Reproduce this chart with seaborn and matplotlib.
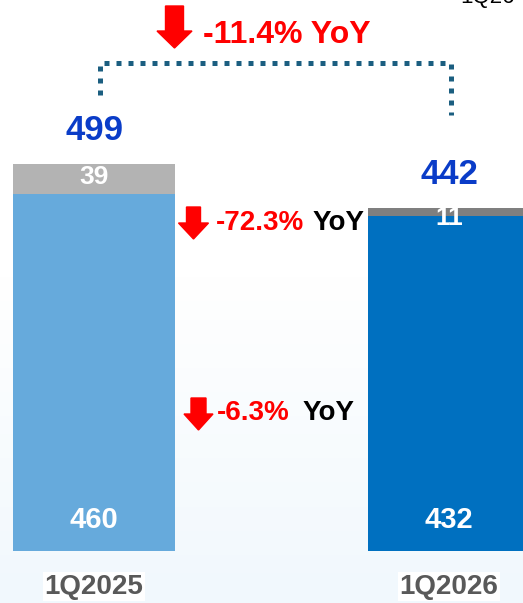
"""
Stacked revenue bars 1Q2025 vs 1Q2026 with YoY call-outs.
"""
import numpy as np
import pandas as pd
import seaborn as sns
import matplotlib.pyplot as plt
from matplotlib.patches import FancyArrow
from matplotlib.colors import LinearSegmentedColormap

periods = ['1Q2025', '1Q2026']
base = [460, 432]
top = [39, 11]
total = [499, 442]
base_colors = ['#66aadc', '#0070c0']
top_colors = ['#b3b3b3', '#7f7f7f']
yoy_total = '-11.4% YoY'
yoy_top = '-72.3%'
yoy_base = '-6.3%'

df = pd.DataFrame({'period': periods, 'base': base, 'top': top, 'total': total})

sns.set_theme(style='white')
plt.rcParams['font.family'] = ['Liberation Sans', 'DejaVu Sans']

fig = plt.figure(figsize=(5.23, 6.03), dpi=100)

# soft gradient background
bg = fig.add_axes([0, 0, 1, 1], zorder=0)
grad = np.concatenate([np.zeros(45), np.linspace(0, 1, 55)]).reshape(-1, 1)
cmap = LinearSegmentedColormap.from_list('bg', ['#ffffff', '#f1f8fd'])
bg.imshow(grad, aspect='auto', cmap=cmap, extent=[0, 1, 0, 1], origin='upper')
bg.axis('off')

ax = fig.add_axes([0, 0, 1, 1], zorder=1)
ax.patch.set_alpha(0)

w = 0.456
sns.barplot(data=df, x='period', y='total', hue='period', palette=top_colors,
            width=w, legend=False, ax=ax, saturation=1, linewidth=0)
sns.barplot(data=df, x='period', y='base', hue='period', palette=base_colors,
            width=w, legend=False, ax=ax, saturation=1, linewidth=0)

ax.set_xlim(-0.265, 1.2085)
ax.set_ylim(-67, 710)
ax.axis('off')

for i in range(2):
    ax.text(i, total[i] + 43, str(total[i]), ha='center', va='center',
            color='#0a3cc8', fontsize=25, fontweight='bold')
    ax.text(i, 40, str(base[i]), ha='center', va='center',
            color='white', fontsize=21, fontweight='bold')
    ax.text(i, -46, periods[i], ha='center', va='center',
            color='#595959', fontsize=20, fontweight='bold',
            bbox=dict(facecolor='white', edgecolor='none', pad=1))
ax.text(0, base[0] + top[0] / 2 + 2, str(top[0]), ha='center', va='center',
        color='white', fontsize=19, fontweight='bold')
ax.text(1, base[1] - 3, str(top[1]), ha='center', va='center',
        color='white', fontsize=19, fontweight='bold')

# dotted bracket between totals
yb = 629
ax.plot([0.017, 0.017, 1.006, 1.006], [total[0] + 89, yb, yb, total[1] + 120],
        color='#1b5e80', lw=3.6, linestyle=(0, (1, 1.4)),
        dash_capstyle='butt', solid_joinstyle='miter')


def down_arrow(xpx, ytop, ytip, shaft, head, headlen):
    # pixel coords from top-left -> inches
    x = xpx / 100
    y0 = (603 - ytop) / 100
    L = (ytip - ytop) / 100
    fig.patches.append(FancyArrow(x, y0, 0, -L, width=shaft / 100,
                                  head_width=head / 100, head_length=headlen / 100,
                                  length_includes_head=True, color='#ff0000',
                                  transform=fig.dpi_scale_trans, zorder=5))


down_arrow(174.5, 6, 48, 18, 35, 17)
down_arrow(193.5, 207, 239, 14, 30, 16)
down_arrow(198.5, 398, 430, 15, 29, 16)

fig.text(203 / 523, 1 - 35 / 603, yoy_total, ha='left', va='center',
         color='#ff0000', fontsize=23, fontweight='bold')
fig.text(216 / 523, 1 - 223 / 603, yoy_top, ha='left', va='center',
         color='#ff0000', fontsize=20, fontweight='bold')
fig.text(313 / 523, 1 - 223 / 603, 'YoY', ha='left', va='center',
         color='black', fontsize=20, fontweight='bold')
fig.text(217 / 523, 1 - 413 / 603, yoy_base, ha='left', va='center',
         color='#ff0000', fontsize=20, fontweight='bold')
fig.text(303 / 523, 1 - 413 / 603, 'YoY', ha='left', va='center',
         color='black', fontsize=20, fontweight='bold')
fig.text(460 / 523, 1 + 2 / 603, '1Q26', ha='left', va='center',
         color='black', fontsize=16)

fig.savefig('out.png', dpi=100)
